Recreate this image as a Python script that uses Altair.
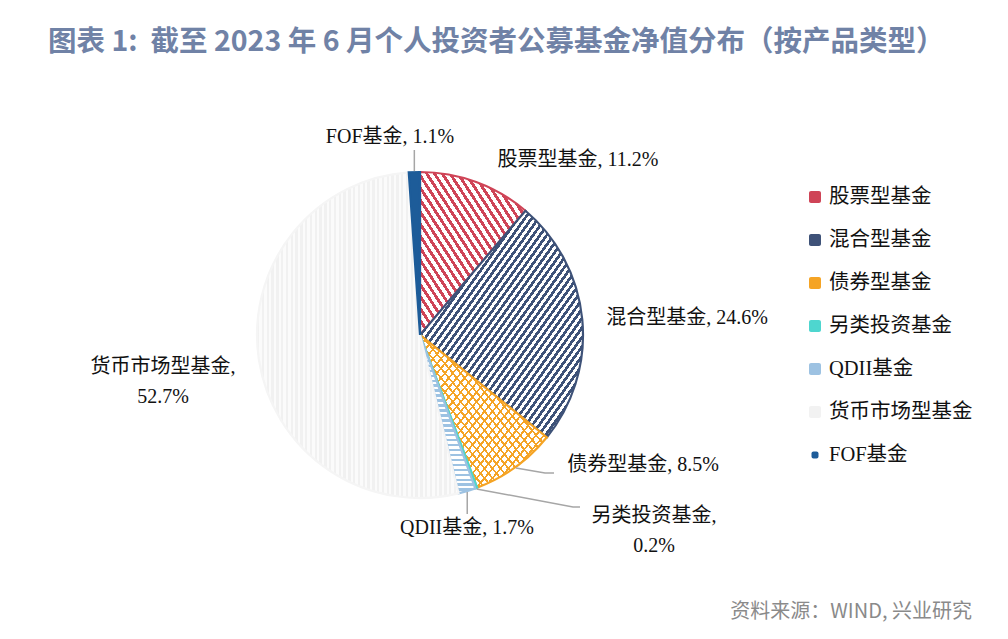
import math
import altair as alt
import pandas as pd

# ---------------- data ----------------
title_text = "图表 1:\u00a0\u00a0截至 2023 年 6 月个人投资者公募基金净值分布（按产品类型）"
source_text = "资料来源：WIND, 兴业研究"
categories = ["股票型基金", "混合型基金", "债券型基金", "另类投资基金", "QDII基金", "货币市场型基金", "FOF基金"]
shares = [11.2, 24.6, 8.5, 0.2, 1.7, 52.7, 1.1]
colors = ["#cf4457", "#3e5278", "#f5a425", "#4ed6cf", "#9dc2e2", "#f2f2f2", "#1d5c99"]

# ---------------- layout ----------------
CX, CY, R = 420, 335, 163
SERIF = "Liberation Serif, Noto Sans CJK SC"
SANS = "Noto Sans CJK SC"

# label centre positions and line breaks
label_layout = {
    "股票型基金": (578, 160, False),
    "混合型基金": (687, 318, False),
    "债券型基金": (643, 465, False),
    "另类投资基金": (654, 516, True),
    "QDII基金": (467, 528, False),
    "货币市场型基金": (163, 367, True),
    "FOF基金": (390, 137, False),
}
# leader line bend points (after the slice-edge start point)
leader_layout = {
    "FOF基金": [(None, 150)],
    "债券型基金": [(545, 473), (554, 473)],
    "另类投资基金": [(573, 507), (580, 507)],
    "QDII基金": [(None, 514)],
}


def stripes(color, bg, n, x1, y1, x2, y2, frac=0.45):
    stops = []
    for k in range(n):
        a = k / n
        b = (k + frac) / n
        c = (k + 1) / n
        stops += [
            {"offset": round(a, 5), "color": color},
            {"offset": round(b, 5), "color": color},
            {"offset": round(b, 5), "color": bg},
            {"offset": round(c, 5), "color": bg},
        ]
    return {"gradient": "linear", "x1": x1, "y1": y1, "x2": x2, "y2": y2, "stops": stops}


TRANSPARENT = "rgba(255,255,255,0)"
fills = {
    "股票型基金": [stripes(colors[0], "#ffffff", 27, 0, 1, 1, 0, 0.45)],
    "混合型基金": [stripes(colors[1], "#ffffff", 48, 0, 0, 1, 1, 0.5)],
    "债券型基金": [stripes(colors[2], "#ffffff", 32, 0, 0, 1, 1, 0.28),
                stripes(colors[2], TRANSPARENT, 32, 0, 1, 1, 0, 0.28)],
    "另类投资基金": [colors[3]],
    "QDII基金": [stripes(colors[4], "#ffffff", 32, 0, 0, 0, 1, 0.5)],
    "货币市场型基金": [stripes("#f1f1f1", "#fbfbfb", 42, 0, 0, 1, 0, 0.5)],
    "FOF基金": [colors[6]],
}
strokes = {c: col for c, col in zip(categories, colors)}
strokes["货币市场型基金"] = "#f5f5f5"

df = pd.DataFrame({"cat": categories, "share": shares, "order": list(range(len(categories)))})
base = alt.Chart(df).transform_window(
    cum="sum(share)", sort=[alt.SortField("order")]
).transform_calculate(start="datum.cum - datum.share")

theta_scale = alt.Scale(domain=[0, 100], range=[0, 2 * math.pi])

layers = []
for cat in categories:
    for i, f in enumerate(fills[cat]):
        mark_kw = dict(radius=R, fill=f)
        if i == 0:
            mark_kw.update(stroke=strokes[cat], strokeWidth=2.2)
        else:
            mark_kw.update(strokeWidth=0)
        layers.append(
            base.transform_filter(alt.datum.cat == cat)
            .mark_arc(**mark_kw)
            .encode(
                theta=alt.Theta("start:Q", scale=theta_scale),
                theta2="cum:Q",
                x=alt.value(CX),
                y=alt.value(CY),
            )
        )

# ---------------- leader lines ----------------
cum = 0.0
mids = {}
for c, v in zip(categories, shares):
    mids[c] = (cum + v / 2) / 100 * 2 * math.pi
    cum += v
rows = []
for c, pts in leader_layout.items():
    ex = CX + (R + 1) * math.sin(mids[c])
    ey = CY - (R + 1) * math.cos(mids[c])
    rows.append({"id": c, "seq": 0, "x": ex, "y": ey})
    for k, (px, py) in enumerate(pts):
        rows.append({"id": c, "seq": k + 1, "x": ex if px is None else px, "y": py})
leader_df = pd.DataFrame(rows)
leaders = alt.Chart(leader_df).mark_line(color="#a6a6a6", strokeWidth=1.5).encode(
    x=alt.X("x:Q", scale=None, axis=None),
    y=alt.Y("y:Q", scale=None, axis=None),
    detail="id:N",
    order="seq:Q",
)

# ---------------- labels ----------------
lab_rows = []
for c, v in zip(categories, shares):
    lx, ly, wrap = label_layout[c]
    sep = ",\n" if wrap else ", "
    lab_rows.append({"cat": c, "label": f"{c}{sep}{v:.1f}%", "lx": lx, "ly": ly})
lab_df = pd.DataFrame(lab_rows)
labels = alt.Chart(lab_df).mark_text(
    font=SERIF, fontSize=20, color="#111111", align="center", baseline="middle",
    lineBreak="\n", lineHeight=30,
).encode(
    x=alt.X("lx:Q", scale=None, axis=None),
    y=alt.Y("ly:Q", scale=None, axis=None),
    text="label:N",
)

# ---------------- legend ----------------
leg_half = [6, 6, 6, 6, 6, 6, 3.5]
leg_df = pd.DataFrame({
    "cat": categories,
    "idx": list(range(len(categories))),
    "half": leg_half,
})
leg_base = alt.Chart(leg_df).transform_calculate(
    ly="197 + 43 * datum.idx",
    y0="197 + 43 * datum.idx - datum.half",
    y1="197 + 43 * datum.idx + datum.half",
    x0="815 - datum.half",
    x1="815 + datum.half",
)
leg_rect = leg_base.mark_rect(cornerRadius=2).encode(
    x=alt.X("x0:Q", scale=None, axis=None),
    x2="x1:Q",
    y=alt.Y("y0:Q", scale=None, axis=None),
    y2="y1:Q",
    color=alt.Color("cat:N", scale=alt.Scale(domain=categories, range=colors), legend=None),
)
leg_text = leg_base.mark_text(
    font=SERIF, fontSize=20.5, color="#111111", align="left", baseline="middle"
).encode(
    x=alt.value(829),
    y=alt.Y("ly:Q", scale=None, axis=None),
    text="cat:N",
)

# ---------------- title / source ----------------
title = alt.Chart(pd.DataFrame({"t": [title_text]})).mark_text(
    font=SANS, fontSize=28.5, fontWeight="bold", color="#7082a6", align="left", baseline="middle"
).encode(x=alt.value(48), y=alt.value(42), text="t:N")
source = alt.Chart(pd.DataFrame({"t": [source_text]})).mark_text(
    font=SANS, fontSize=20, color="#8a8a8a", align="right", baseline="middle"
).encode(x=alt.value(972), y=alt.value(612), text="t:N")

chart = alt.layer(*layers, leaders, labels, leg_rect, leg_text, title, source).properties(
    width=1008, height=639, autosize=alt.AutoSizeParams(type="none"), padding=0,
    background="#ffffff",
).configure_view(stroke=None)

chart.save("out.html", embed_options={"renderer": "svg", "actions": False})
